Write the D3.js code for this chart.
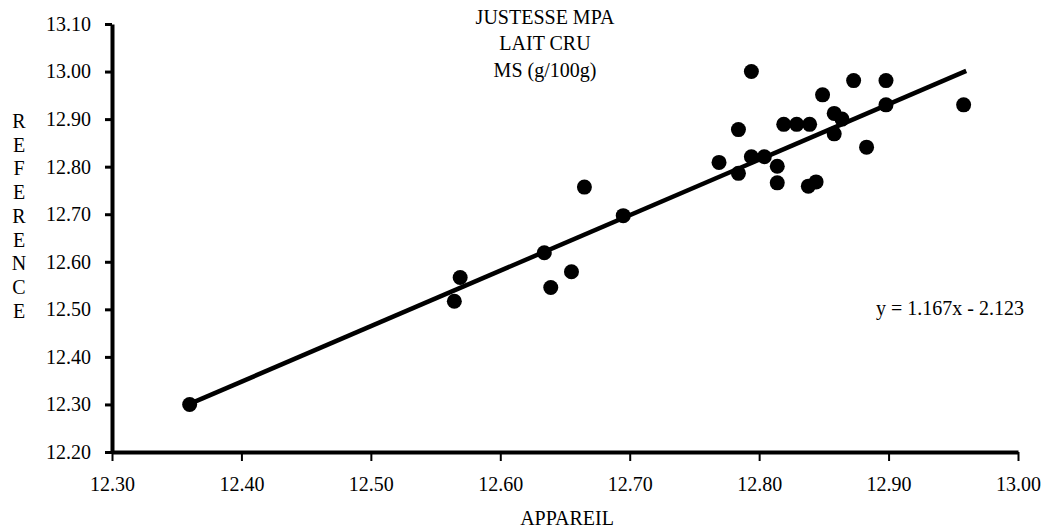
<!DOCTYPE html>
<html>
<head>
<meta charset="utf-8">
<script src="https://cdn.jsdelivr.net/npm/d3@7"></script>
<style>
  html, body { margin: 0; padding: 0; background: #fff; }
  svg text { font-family: 'Liberation Serif', 'Times New Roman', serif !important; fill: #000; }
</style>
</head>
<body>
<svg id="chart" width="1045" height="530" font-family="Liberation Serif"></svg>
<script>
// Data
const appareil = [12.36, 12.5645, 12.569, 12.634, 12.639, 12.655, 12.665, 12.695,
  12.769, 12.784, 12.784, 12.794, 12.794, 12.804, 12.814, 12.814,
  12.819, 12.829, 12.839, 12.838, 12.844, 12.849, 12.858, 12.858,
  12.864, 12.873, 12.883, 12.898, 12.898, 12.958];
const reference = [12.30, 12.517, 12.567, 12.619, 12.546, 12.579, 12.757, 12.697,
  12.809, 12.878, 12.786, 13.00, 12.821, 12.821, 12.801, 12.766,
  12.889, 12.889, 12.889, 12.759, 12.768, 12.951, 12.912, 12.869,
  12.90, 12.981, 12.841, 12.981, 12.93, 12.93];
const xTicks = [12.30, 12.40, 12.50, 12.60, 12.70, 12.80, 12.90, 13.00];
const yTicks = [12.20, 12.30, 12.40, 12.50, 12.60, 12.70, 12.80, 12.90, 13.00, 13.10];
const slope = 1.167, intercept = -2.123;
const fitRange = [12.36, 12.96];
const titleLines = ["JUSTESSE MPA", "LAIT CRU", "MS (g/100g)"];
const yTitle = "REFERENCE";
const xTitle = "APPAREIL";
const equation = "y = 1.167x - 2.123";

const svg = d3.select("#chart");
const x = d3.scaleLinear().domain([12.30, 13.00]).range([112, 1018]);
const y = d3.scaleLinear().domain([12.20, 13.10]).range([452, 24]);
const fmt = d3.format(".2f");
const FONT = "Liberation Serif";

// Regression line
svg.append("line")
  .attr("x1", x(fitRange[0])).attr("y1", y(slope * fitRange[0] + intercept))
  .attr("x2", x(fitRange[1])).attr("y2", y(slope * fitRange[1] + intercept))
  .attr("stroke", "#000").attr("stroke-width", 4.5);

// Points
svg.append("g").selectAll("circle")
  .data(appareil.map((v, i) => [v, reference[i]]))
  .join("circle")
  .attr("cx", d => x(d[0]))
  .attr("cy", d => y(d[1]))
  .attr("r", 7.5)
  .attr("fill", "#000");

// X axis
const gx = svg.append("g").attr("transform", `translate(0,${y(12.20)})`)
  .call(d3.axisBottom(x).tickValues(xTicks).tickFormat(fmt).tickSize(9).tickSizeOuter(0).tickPadding(16));
gx.attr("font-family", FONT).attr("font-size", 20);
gx.select(".domain").attr("stroke-width", 4);
gx.selectAll(".tick line").attr("stroke-width", 2);

// Y axis
const gy = svg.append("g").attr("transform", `translate(${x(12.30)},0)`)
  .call(d3.axisLeft(y).tickValues(yTicks).tickFormat(fmt).tickSize(7).tickSizeOuter(0).tickPadding(14));
gy.attr("font-family", FONT).attr("font-size", 20);
gy.select(".domain").attr("stroke-width", 4);
gy.selectAll(".tick line").attr("stroke-width", 3);

// Title
svg.append("g").selectAll("text").data(titleLines).join("text")
  .attr("x", 545).attr("y", (d, i) => [24, 50, 77][i])
  .attr("text-anchor", "middle").attr("font-size", 20)
  .text(d => d);

// Y title (stacked letters)
svg.append("g").selectAll("text").data(yTitle.split("")).join("text")
  .attr("x", 19).attr("y", (d, i) => 128 + i * 23.7)
  .attr("text-anchor", "middle").attr("font-size", 20)
  .text(d => d);

// X title
svg.append("text").attr("x", 567).attr("y", 525)
  .attr("text-anchor", "middle").attr("font-size", 20).text(xTitle);

// Equation
svg.append("text").attr("x", 1024).attr("y", 315)
  .attr("text-anchor", "end").attr("font-size", 20).text(equation);
</script>
</body>
</html>
